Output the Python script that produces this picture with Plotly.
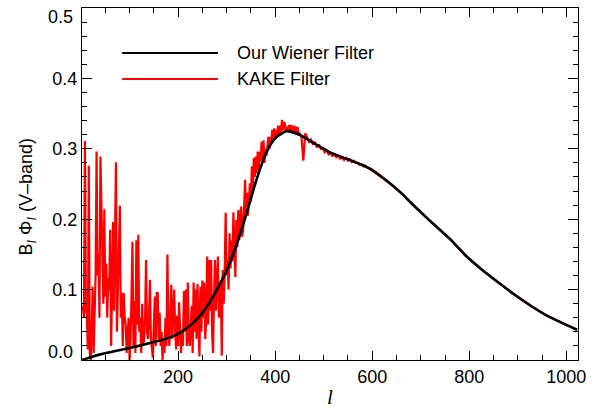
import plotly.graph_objects as go

# ---- Data ----
wiener_l = [2, 20, 40, 66, 100, 142, 170, 200, 230, 250, 265, 280, 300, 320, 341, 361,
            380, 400, 423, 443, 458, 477, 492, 513, 527, 554, 580, 600, 620, 640, 660,
            680, 700, 720, 760, 793, 830, 862, 895, 929, 960, 990, 1022]
wiener_v = [0.000, 0.004, 0.008, 0.012, 0.017, 0.024, 0.029, 0.037, 0.052, 0.067, 0.082,
            0.100, 0.127, 0.163, 0.208, 0.255, 0.292, 0.315, 0.325, 0.322, 0.317, 0.309,
            0.303, 0.295, 0.291, 0.284, 0.277, 0.270, 0.260, 0.249, 0.237, 0.223, 0.210,
            0.197, 0.172, 0.148, 0.126, 0.109, 0.092, 0.076, 0.063, 0.053, 0.043]

# KAKE filter: l = 2..300 (step 2)
kake_low_l = list(range(2, 301, 2))
kake_low_v = [
    0.077, 0.075, 0.060, 0.311, 0.070, 0.066, 0.015, 0.276, 0.010, 0.000,
    0.040, 0.104, 0.010, 0.060, 0.120, 0.296, 0.120, 0.152, 0.060, 0.289,
    0.185, 0.150, 0.080, 0.214, 0.090, 0.137, 0.060, 0.116, 0.100, 0.185,
    0.020, 0.120, 0.196, 0.070, 0.150, 0.281, 0.040, 0.100, 0.120, 0.219,
    0.060, 0.095, 0.020, 0.095, 0.060, 0.050, 0.010, 0.050, 0.060, 0.000,
    0.030, 0.090, 0.168, 0.020, 0.084, 0.010, 0.170, 0.050, 0.178, 0.040,
    0.060, 0.010, 0.080, 0.020, 0.030, 0.060, 0.142, 0.040, 0.030, 0.060,
    0.114, 0.030, 0.020, 0.003, 0.050, 0.090, 0.020, 0.095, 0.095, 0.030,
    0.067, 0.020, 0.040, 0.000, 0.030, 0.010, 0.060, 0.020, 0.150, 0.040,
    0.020, 0.060, 0.107, 0.030, 0.070, 0.100, 0.040, 0.015, 0.063, 0.020,
    0.082, 0.030, 0.010, 0.040, 0.020, 0.098, 0.040, 0.100, 0.020, 0.110,
    0.030, 0.020, 0.050, 0.077, 0.010, 0.110, 0.040, 0.100, 0.030, 0.108,
    0.050, 0.005, 0.104, 0.040, 0.113, 0.060, 0.110, 0.030, 0.060, 0.147,
    0.050, 0.142, 0.070, 0.142, 0.040, 0.010, 0.090, 0.142, 0.070, 0.120,
    0.147, 0.060, 0.095, 0.110, 0.006, 0.128, 0.080, 0.123, 0.209, 0.120,
]
# l = 302..450 (step 2)
kake_mid_l = list(range(302, 451, 2))
kake_mid_v = [
    0.142, 0.100, 0.180, 0.130, 0.170,
    0.140, 0.210, 0.150, 0.118, 0.199,
    0.160, 0.213, 0.170, 0.204, 0.218,
    0.175, 0.185, 0.215, 0.256, 0.210,
    0.237, 0.205, 0.227, 0.251, 0.225,
    0.275, 0.240, 0.287, 0.260, 0.289,
    0.265, 0.296, 0.270, 0.296, 0.282,
    0.310, 0.285, 0.312, 0.280, 0.300,
    0.290, 0.303, 0.317, 0.300, 0.317,
    0.308, 0.327, 0.312, 0.329, 0.316,
    0.327, 0.318, 0.333, 0.320, 0.333,
    0.322, 0.341, 0.326, 0.338, 0.336,
    0.324, 0.331, 0.327, 0.334, 0.325,
    0.334, 0.322, 0.333, 0.322, 0.333,
    0.320, 0.327, 0.331, 0.321, 0.322,
]
# l = 454..598 (step 4)
kake_upper_l = list(range(454, 599, 4))
kake_upper_v = [
    0.318, 0.283, 0.322, 0.317, 0.310, 0.313, 0.306, 0.310, 0.302, 0.306,
    0.300, 0.301, 0.295, 0.298, 0.292, 0.294, 0.290, 0.292, 0.288, 0.290,
    0.286, 0.288, 0.284, 0.287, 0.283, 0.285, 0.281, 0.283, 0.280, 0.280,
    0.277, 0.278, 0.275, 0.276, 0.273, 0.272, 0.270,
]
kake_high_l = [620, 640, 660, 680, 700, 720, 760, 793, 830, 862, 895, 929, 960, 990, 1022]
kake_high_v = [0.260, 0.249, 0.237, 0.223, 0.210, 0.197, 0.172, 0.148, 0.126, 0.109,
               0.092, 0.076, 0.063, 0.053, 0.043]

kake_l = kake_low_l + kake_mid_l + kake_upper_l + kake_high_l
kake_v = kake_low_v + kake_mid_v + kake_upper_v + kake_high_v

y_tickvals = [0.0, 0.1, 0.2, 0.3, 0.4, 0.5]
y_ticktext = ["", "0.1", "0.2", "0.3", "0.4", ""]
y_end_labels = [(0.0, "0.0", 8), (0.5, "0.5", -9)]

legend_names = ["Our Wiener Filter", "KAKE Filter"]

FONT = "Liberation Sans, Arial, sans-serif"
SERIF = "Liberation Serif, Times New Roman, serif"

fig = go.Figure()
fig.add_trace(go.Scatter(x=kake_l, y=kake_v, mode="lines",
                         line=dict(color="#ff0000", width=2.2),
                         name=legend_names[1], showlegend=False))
fig.add_trace(go.Scatter(x=wiener_l, y=wiener_v, mode="lines",
                         line=dict(color="#000000", width=2.6, shape="spline", smoothing=0.6),
                         name=legend_names[0], showlegend=False))

leg_y = [0.872, 0.798]
leg_col = ["#000000", "#ff0000"]
for yy, c, name in zip(leg_y, leg_col, legend_names):
    fig.add_shape(type="line", xref="paper", yref="paper", x0=0.081, x1=0.274,
                  y0=yy, y1=yy, line=dict(color=c, width=2))
    fig.add_annotation(xref="paper", yref="paper", x=0.3085, y=yy, xanchor="left",
                       yanchor="middle", text=name, showarrow=False,
                       font=dict(family=FONT, size=18, color="black"))

# end tick labels of the y axis (shifted inwards like the reference)
for yv, txt, ys in y_end_labels:
    fig.add_annotation(xref="paper", yref="y", x=0, y=yv, xanchor="right",
                       yanchor="middle", text=txt, showarrow=False, xshift=-7,
                       yshift=ys, font=dict(family=FONT, size=18, color="black"))

fig.add_annotation(xref="paper", yref="paper", x=0.5, y=-0.105, yanchor="middle",
                   xanchor="center", showarrow=False,
                   text="<i>l</i>", font=dict(family=SERIF, size=21, color="black"))
fig.add_annotation(xref="paper", yref="paper", x=-0.11, y=0.463, xanchor="center",
                   yanchor="middle", textangle=-90, showarrow=False,
                   text="B<sub><span style='font-family:Liberation Serif'><i>l</i></span></sub> "
                        "Φ<sub><span style='font-family:Liberation Serif'><i>l</i></span></sub> (V–band)",
                   font=dict(family=FONT, size=18, color="black"))

fig.update_layout(
    template="none",
    width=598, height=410, autosize=False,
    margin=dict(l=82, r=20, t=8, b=50, pad=0),
    paper_bgcolor="white", plot_bgcolor="white",
    showlegend=False,
    xaxis=dict(range=[2, 1024], showgrid=False, zeroline=False,
               showline=True, linecolor="black", linewidth=1, mirror="allticks",
               ticks="inside", ticklen=9, tickwidth=1, tickcolor="black",
               tickmode="linear", tick0=0, dtick=200, showticklabels=True,
               tickfont=dict(family=FONT, size=18, color="black"),
               minor=dict(ticks="inside", ticklen=5, dtick=50, tick0=0,
                          tickcolor="black", tickwidth=1, showgrid=False)),
    yaxis=dict(range=[0, 0.5], showgrid=False, zeroline=False,
               showline=True, linecolor="black", linewidth=1, mirror="allticks",
               ticks="inside", ticklen=10, tickwidth=1, tickcolor="black",
               tickmode="array", tickvals=y_tickvals, ticktext=y_ticktext,
               showticklabels=True,
               tickfont=dict(family=FONT, size=18, color="black"),
               minor=dict(ticks="inside", ticklen=5, dtick=0.02, tick0=0,
                          tickcolor="black", tickwidth=1, showgrid=False)),
)

fig.write_html("out.html")
